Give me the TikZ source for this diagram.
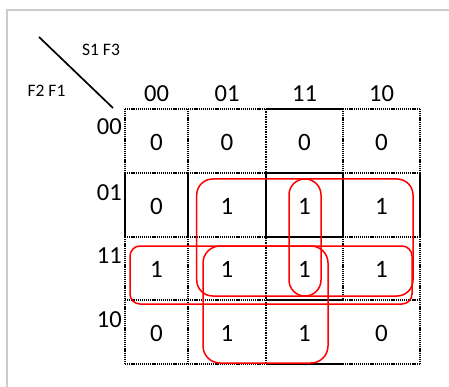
\documentclass[tikz,border=0pt]{standalone}
\usepackage{fontspec}
\setmainfont{Carlito}
\begin{document}
\begin{tikzpicture}[x=1pt,y=-1pt,
  dotb/.style={line width=1.6pt, dash pattern=on 1.2pt off 0.9pt},
  dotthick/.style={line width=2.6pt, dash pattern=on 1.5pt off 1pt},
  solidb/.style={line width=1.9pt},
  solidthick/.style={line width=2.6pt},
  loopbox/.style={draw=red, line width=1.5pt},
  hdr/.style={font=\fontsize{24.5}{24.5}\selectfont, inner sep=0pt},
  val/.style={font=\fontsize{25}{25}\selectfont, inner sep=0pt},
  small/.style={font=\fontsize{17.5}{17.5}\selectfont, inner sep=0pt}]
\useasboundingbox (0,0) rectangle (449,387);
\draw[black!20, line width=1.8pt] (7,387) -- (7,10) -- (449,10);
% diagonal and axis labels
\coordinate (d1) at (39,37);
\coordinate (d2) at (113,108);
\draw[line width=1.7pt] (d1) -- (d2);
\node[small] (sf) at (101,50) {S1 F3};
\node[small] (ff) at (46.5,91) {F2 F1};
% horizontal grid lines
\foreach \y in {109,173,237,300,364}{
  \draw[dotb] (125,\y) -- (266,\y);
  \draw[solidb] (266,\y) -- (343,\y);
  \draw[dotb] (343,\y) -- (420,\y);
}
% vertical grid lines
\foreach \x in {125,188,420}{
  \draw[dotb] (\x,109) -- (\x,173);
  \draw[solidb] (\x,173) -- (\x,237);
  \draw[dotb] (\x,237) -- (\x,364);
}
\draw[dotthick] (266,109) -- (266,173);
\draw[solidthick] (266,173) -- (266,237);
\draw[dotthick] (266,237) -- (266,364);
\draw[dotb] (343,109) -- (343,173);
\draw[solidb] (343,173) -- (343,237);
\draw[dotb] (343,237) -- (343,300);
% headers
\node[hdr] (h00) at (156.5,94) {00};
\node[hdr] (h01) at (227,94) {01};
\node[hdr] (h11) at (304.5,94) {11};
\node[hdr] (h10) at (381.5,94) {10};
\node[hdr, anchor=east] (r00) at (122,127) {00};
\node[hdr, anchor=east] (r01) at (122,193) {01};
\node[hdr, anchor=east] (r11) at (122,256) {11};
\node[hdr, anchor=east] (r10) at (122,320) {10};
% cell values
\foreach \v [count=\i] in {0,0,0,0}{
  \pgfmathsetmacro{\cx}{{156.5,227,304.5,381.5}[\i-1]}
  \node[val] (a\i) at (\cx,142) {\v};
}
\foreach \v [count=\i] in {0,1,1,1}{
  \pgfmathsetmacro{\cx}{{156.5,227,304.5,381.5}[\i-1]}
  \node[val] (b\i) at (\cx,206) {\v};
}
\foreach \v [count=\i] in {1,1,1,1}{
  \pgfmathsetmacro{\cx}{{156.5,227,304.5,381.5}[\i-1]}
  \node[val] (c\i) at (\cx,269.5) {\v};
}
\foreach \v [count=\i] in {0,1,1,0}{
  \pgfmathsetmacro{\cx}{{156.5,227,304.5,381.5}[\i-1]}
  \node[val] (e\i) at (\cx,333) {\v};
}
% groupings
\draw[loopbox, rounded corners=16pt] (196.7,179) rectangle (413,296);
\draw[loopbox, rounded corners=10pt] (130,246) rectangle (412,304);
\draw[loopbox, rounded corners=17pt] (203,246) rectangle (328,363);
\draw[loopbox, rounded corners=15.9pt] (289,179) rectangle (321,296);
\end{tikzpicture}
\end{document}
